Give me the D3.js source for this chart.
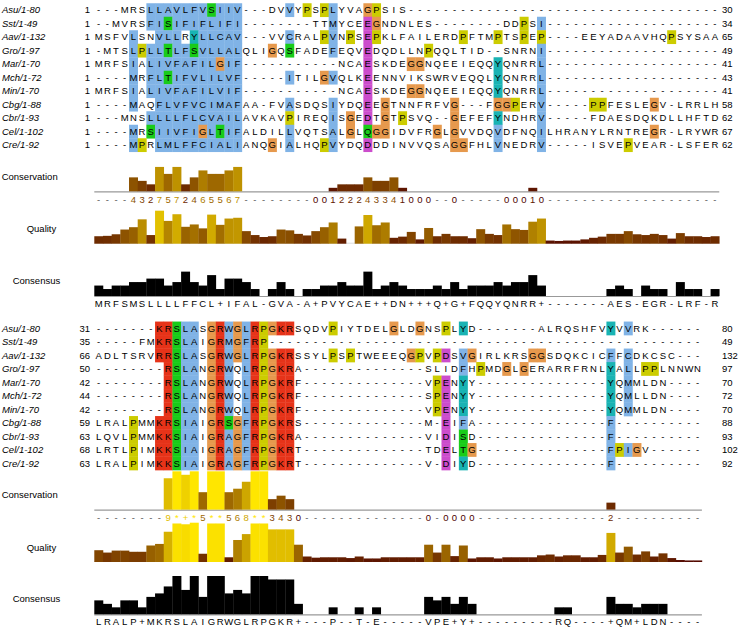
<!DOCTYPE html>
<html>
<head>
<meta charset="utf-8">
<script src="https://cdn.jsdelivr.net/npm/d3@7"></script>
<style>
  body { margin: 0; background: #fff; }
  svg { display: block; font-family: "Liberation Sans", Arial, Helvetica, sans-serif; }
</style>
</head>
<body>
<div id="chart"></div>
<script>
// sequence names (Jalview style id/start-end)
const names = ['Asu/1-80', 'Sst/1-49', 'Aav/1-132', 'Gro/1-97', 'Mar/1-70', 'Mch/1-72',
  'Min/1-70', 'Cbg/1-88', 'Cbr/1-93', 'Cel/1-102', 'Cre/1-92']

// alignment, first block (72 columns)
const block1 = [
  '---MRSLLAVLFVSIIV---DVVYPSPLYVAGPSIS------------------------------------',
  '--MVRSFISIFIFLIFI--------TTMYCEEGNDNLES--------DDPSI--------------------',
  'MSFVLSNVLLRYLLCAV---VVCRALPVNPSEPKLFAILERDPFTMPTSPEP----EEYADAAVHQPSYSAA',
  '-MTSLPLLTLFSVLLALQLIGQSFADEFEQVEDQDLLNPQQLTID--SNRNI--------------------',
  'MRFSIALIVFAFILGIF-----------NCAESKDEGGNQEEIEQQYQNRRL--------------------',
  '----MRFLTIFVLILVF-----ITILGVQLKEENNVIKSWRVEQQLYQNRRL--------------------',
  'MRFSIALIVFAFILVIF-----------NCAESKDEGGNQEEIEQQYQNRRL--------------------',
  '----MAQFLVFVCIMAFAA-FVASDQSIYDQEEGTNNFRFVG---FGGPERV-----PPFESLEGV-LRRLH',
  '---MNSLLLLFLCVAILAVKAVPIREQISGEDTGTPSVQ--GEFEFYNDHRV-----FDAESDQKDLLHFTD',
  '----MRSIIVFIGLTIFALDILLVQTSALGLQGGIDVFRGLGVVDQVDFNQILHRANYLRNTREGR-LRYWR',
  '----MPRLMLFFCIALIANQGIALHQPVYDQDDDINVVQSAGGFHLVNEDRV-----ISVEPVEAR-LSFER'
]

// alignment, second block (70 columns)
const block2 = [
  '-------KRSLASGRWGLRPGKRSQDVPIYTDELGLDGNSPLYD-------ALRQSHFVYVVRK------',
  '-----FMKRSLAIGRMGFRP--------------------------------------------------',
  'ADLTSRVRRSLASGRWGLRPGKRSSYLPSPTWEEEQGPVPDSVGIRLKRSGGSDQKCICFFCDKCSC---',
  '--------RSLANGRWQLRPGKRA--------------SLIDFHPMDGLGERARRFRNLYALLPPLNNWN',
  '--------RSLANGRWQLRPGKRF--------------VPENYY---------------YQMMLDN----',
  '--------RSLANGRWQLRPGKRF--------------SPENYY---------------YQMLLDN----',
  '--------RSLANGRWQLRPGKRF--------------VPENYY---------------YQMMLDN----',
  'LRALPMMKRSIAIGRSGFRPGKRS--------------M-EIFA---------------F----------',
  'LQVLPMMKKSIAIGRAGFRPGKRA--------------VIDISD---------------F----------',
  'LRTLPIMKKSIAIGRAGFRPGKRT--------------TDELTG---------------FPIGV------',
  'LRALPIMKKSIAIGRAGFRPGKRT--------------V-DIYD---------------F----------'
]

// conservation scores as printed under the bars ('*' = 11, '+' = 10, '-' = none)
const conservation1 = ('----4327572465567--------00122243341000--0-----00010' + '-'.repeat(20)).split('')
const conservation2 = ('--------9*+*5**568**3430' + '-'.repeat(14) + '0-0000' + '-'.repeat(15) + '2' + '-'.repeat(10)).split('')

// alignment quality, % of the highest column
const quality1 = [19, 20, 24, 36, 42, 62, 22, 84, 58, 75, 43, 49, 39, 74, 48, 64, 66, 32, 22, 17,
  19, 36, 34, 25, 21, 32, 42, 54, 13, 0, 44, 73, 47, 54, 15, 18, 30, 11, 40, 19,
  25, 19, 19, 14, 37, 25, 22, 49, 37, 35, 56, 64, 8, 7, 8, 8, 11, 15, 18, 25,
  25, 32, 24, 22, 25, 22, 13, 27, 19, 19, 17, 19]
const quality2 = [30, 24, 29, 29, 26, 26, 42, 46, 77, 98, 96, 100, 21, 98, 98, 12, 56, 71, 98, 98,
  83, 83, 83, 44, 14, 11, 12, 12, 12, 10, 14, 9, 9, 12, 12, 12, 12, 12, 44, 24,
  44, 15, 42, 9, 12, 12, 9, 12, 12, 12, 12, 17, 19, 14, 17, 17, 12, 12, 18, 74,
  24, 39, 19, 27, 14, 22, 10, 5, 4, 4]

const colW = 8.68
const x0 = 94.3
const rowH = 13.5
const nSeq = names.length

const svg = d3.select('#chart')
  .append('svg')
  .attr('width', 739)
  .attr('height', 627)

// ClustalX colours as used by Jalview
const clx = {
  blue: 'rgb(128,179,230)', red: 'rgb(230,51,25)', green: 'rgb(25,204,25)',
  orange: 'rgb(230,153,77)', cyan: 'rgb(25,179,179)', pink: 'rgb(230,128,128)',
  magenta: 'rgb(204,77,204)', yellow: 'rgb(204,204,0)'
}

const clustal = (column) => {
  const pct = (set) => column.filter((c) => set.includes(c)).length * 100 / column.length
  const over = (set, t) => pct(set) > t
  const anyOver = (set, t) => set.split('').some((r) => pct(r) > t)
  const HYD = 'WLVIMAFCYHP'
  return (res) => {
    if ('AILMFWV'.includes(res)) return over(HYD, 60) ? clx.blue : null
    if (res === 'C') return anyOver('C', 85) ? clx.pink : (over(HYD, 60) ? clx.blue : null)
    if ('KR'.includes(res)) return (over('KR', 60) || anyOver('KRQ', 85)) ? clx.red : null
    if (res === 'E') return (over('KR', 60) || over('QE', 50) || over('ED', 50) || anyOver('EQD', 85)) ? clx.magenta : null
    if (res === 'D') return (over('KR', 60) || anyOver('KRQ', 85) || over('ED', 50)) ? clx.magenta : null
    if (res === 'N') return (over('N', 50) || anyOver('NY', 85)) ? clx.green : null
    if (res === 'Q') return (over('KR', 60) || over('QE', 50) || anyOver('QTKR', 85)) ? clx.green : null
    if ('ST'.includes(res)) return (over(HYD, 60) || over('TS', 50) || anyOver('ST', 85)) ? clx.green : null
    if (res === 'G') return clx.orange
    if (res === 'P') return clx.yellow
    if ('HY'.includes(res)) return (over(HYD, 60) || anyOver('WYACPQFHILMV', 85)) ? clx.cyan : null
    return null
  }
}

// brown -> yellow ramp of Jalview annotation bars
const ramp = (v) => `rgb(${Math.round(255 * (0.3 + 0.7 * v))},${Math.round(255 * 0.9 * v)},0)`

const consHeight = d3.scaleLinear().domain([0, 11]).range([0, 38.3])
const qualHeight = d3.scaleLinear().domain([0, 100]).range([0, 39.3])
const idHeight = d3.scaleLinear().domain([0, nSeq]).range([0, 38.3])

const consValue = (s) => s === '*' ? 11 : s === '+' ? 10 : s === '-' ? null : +s

const consensusOf = (column) => {
  const counts = d3.rollup(column.filter((c) => c !== '-'), (v) => v.length, (d) => d)
  const max = d3.max(counts.values()) || 0
  if (max < 2) return { ch: '-', n: 0 }
  const modal = [...counts].filter((d) => d[1] === max)
  return { ch: modal.length > 1 ? '+' : modal[0][0], n: max }
}

const drawBlock = (seqs, cons, qual, top, prevCounts) => {
  const nCol = seqs[0].length
  const x = d3.scaleBand().domain(d3.range(nCol)).range([x0, x0 + nCol * colW])
  const y = d3.scaleBand().domain(d3.range(nSeq)).range([top - rowH / 2, top - rowH / 2 + nSeq * rowH])
  const g = svg.append('g')

  const columns = d3.range(nCol).map((c) => seqs.map((s) => s[c]))
  const colourers = columns.map(clustal)

  const cells = []
  seqs.forEach((s, r) => s.split('').forEach((ch, c) => {
    cells.push({ r, c, ch, fill: ch === '-' ? null : colourers[c](ch) })
  }))

  g.selectAll('rect.cell')
    .data(cells.filter((d) => d.fill))
    .enter()
    .append('rect')
    .attr('class', 'cell')
    .attr('x', (d) => x(d.c))
    .attr('y', (d) => y(d.r))
    .attr('width', x.bandwidth() + 0.3)
    .attr('height', y.bandwidth() + 0.3)
    .attr('fill', (d) => d.fill)

  g.selectAll('text.res')
    .data(cells)
    .enter()
    .append('text')
    .attr('class', 'res')
    .attr('x', (d) => x(d.c) + x.bandwidth() / 2)
    .attr('y', (d) => y(d.r) + y.bandwidth() / 2 + 3.4)
    .attr('text-anchor', 'middle')
    .attr('font-size', 9.5)
    .text((d) => d.ch)

  // names and residue numbers
  g.selectAll('text.name')
    .data(names)
    .enter()
    .append('text')
    .attr('x', 2)
    .attr('y', (d, i) => y(i) + y.bandwidth() / 2 + 3.4)
    .attr('font-size', 9.5)
    .attr('font-style', 'italic')
    .text((d) => d)

  const counts = seqs.map((s) => s.replace(/-/g, '').length)
  g.selectAll('text.start')
    .data(seqs)
    .enter()
    .append('text')
    .attr('x', 90)
    .attr('y', (d, i) => y(i) + y.bandwidth() / 2 + 3.4)
    .attr('text-anchor', 'end')
    .attr('font-size', 9.5)
    .text((d, i) => prevCounts[i] + 1)
  g.selectAll('text.end')
    .data(seqs)
    .enter()
    .append('text')
    .attr('x', 722)
    .attr('y', (d, i) => y(i) + y.bandwidth() / 2 + 3.4)
    .attr('font-size', 9.5)
    .text((d, i) => prevCounts[i] + counts[i])

  const xEnd = x0 + nCol * colW
  const labels = [['Conservation', 1.7, 166.7], ['Quality', 26.7, 219], ['Consensus', 12.7, 270.7]]
  labels.forEach(([t, lx, dy]) => {
    g.append('text').attr('x', lx).attr('y', top + dy + 3.4).attr('font-size', 9.5).text(t)
  })

  // conservation
  const cBase = top + 181.3
  g.append('line').attr('x1', x0).attr('x2', xEnd).attr('y1', cBase + 0.5).attr('y2', cBase + 0.5)
    .attr('stroke', '#999').attr('stroke-width', 1.2)
  const consData = cons.map((s, c) => ({ c, s, v: consValue(s) }))
  g.selectAll('rect.cons')
    .data(consData.filter((d) => d.v))
    .enter()
    .append('rect')
    .attr('x', (d) => x(d.c))
    .attr('y', (d) => cBase - consHeight(d.v))
    .attr('width', x.bandwidth() + 0.3)
    .attr('height', (d) => consHeight(d.v))
    .attr('fill', (d) => ramp(d.v / 11))
  g.selectAll('text.cons')
    .data(consData)
    .enter()
    .append('text')
    .attr('x', (d) => x(d.c) + x.bandwidth() / 2)
    .attr('y', cBase + 11.2)
    .attr('text-anchor', 'middle')
    .attr('font-size', 9.5)
    .attr('fill', (d) => d.v === null ? '#555' : ramp(d.v / 11))
    .text((d) => d.s)

  // quality
  const qBase = top + 233.7
  g.append('line').attr('x1', x0).attr('x2', xEnd).attr('y1', qBase - 0.5).attr('y2', qBase - 0.5)
    .attr('stroke', '#ddd').attr('stroke-width', 1)
  g.selectAll('rect.qual')
    .data(qual)
    .enter()
    .append('rect')
    .attr('x', (d, i) => x(i))
    .attr('y', (d) => qBase - qualHeight(d))
    .attr('width', x.bandwidth() + 0.3)
    .attr('height', (d) => qualHeight(d))
    .attr('fill', (d) => ramp(d / 100))

  // consensus
  const kBase = top + 286
  const consensus = columns.map(consensusOf)
  g.append('line').attr('x1', x0).attr('x2', xEnd).attr('y1', kBase + 0.5).attr('y2', kBase + 0.5)
    .attr('stroke', '#999').attr('stroke-width', 1.2)
  g.selectAll('rect.id')
    .data(consensus)
    .enter()
    .append('rect')
    .attr('x', (d, i) => x(i))
    .attr('y', (d) => kBase - idHeight(d.n))
    .attr('width', x.bandwidth() + 0.3)
    .attr('height', (d) => idHeight(d.n))
    .attr('fill', '#000')
  g.selectAll('text.id')
    .data(consensus)
    .enter()
    .append('text')
    .attr('x', (d, i) => x(i) + x.bandwidth() / 2)
    .attr('y', kBase + 10.8)
    .attr('text-anchor', 'middle')
    .attr('font-size', 9.5)
    .text((d) => d.ch)

  return prevCounts.map((p, i) => p + counts[i])
}

const after1 = drawBlock(block1, conservation1, quality1, 10, names.map(() => 0))
drawBlock(block2, conservation2, quality2, 328.3, after1)
</script>
</body>
</html>
